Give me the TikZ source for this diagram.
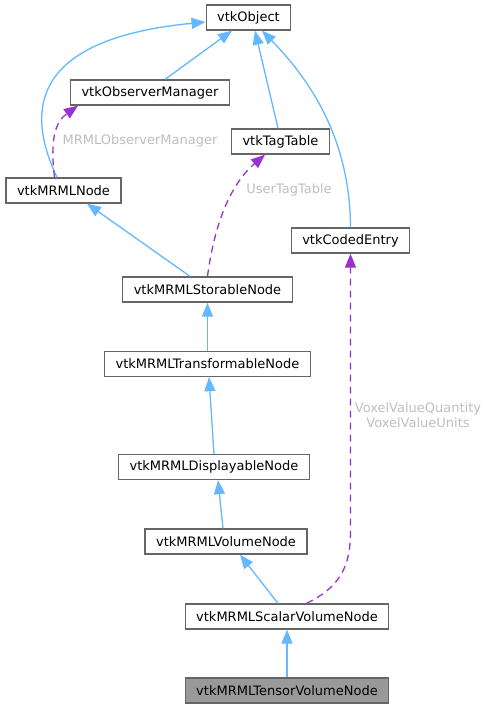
\documentclass[tikz,border=0pt]{standalone}
\usepackage{fontspec}
\setmainfont{DejaVu Sans}
\usepackage{xcolor}
\usetikzlibrary{arrows.meta}

\definecolor{edgeblue}{HTML}{63B8FF}
\definecolor{edgepurple}{HTML}{9A32CD}
\definecolor{boxgray}{HTML}{666666}
\definecolor{mainfill}{HTML}{999999}
\definecolor{labelgray}{HTML}{BEBEBE}

\begin{document}
\begin{tikzpicture}[x=1pt, y=-1pt,
    font=\fontsize{13}{15}\selectfont,
    cls/.style={draw=boxgray, line width=1.3pt, fill=white, minimum height=25pt, inner xsep=11pt, inner ysep=0pt},
    mainclass/.style={cls, fill=mainfill},
    inherit/.style={draw=edgeblue, line width=1.3pt, -{Triangle[length=14pt, width=11pt]}},
    usage/.style={draw=edgepurple, line width=1.3pt, dash pattern=on 7pt off 5pt, -{Triangle[length=14pt, width=11pt]}},
    edgelabel/.style={text=labelgray, align=center, inner sep=0pt}]
    \useasboundingbox (0,0) rectangle (488,709);

    % Classes  (pixel grid 488 x 709, y pointing down)
    \node[cls] (vtkobject) at (248.5,17.5) {vtkObject};
    \node[cls] (obsmgr) at (150,92.5) {vtkObserverManager};
    \node[cls] (tagtable) at (280.5,141.5) {vtkTagTable};
    \node[cls] (mrmlnode) at (63.5,190.5) {vtkMRMLNode};
    \node[cls] (codedentry) at (350.5,240.5) {vtkCodedEntry};
    \node[cls] (storable) at (207.5,289.5) {vtkMRMLStorableNode};
    \node[cls] (transformable) at (207.5,364) {vtkMRMLTransformableNode};
    \node[cls] (displayable) at (214,467) {vtkMRMLDisplayableNode};
    \node[cls] (volume) at (226,541.5) {vtkMRMLVolumeNode};
    \node[cls] (scalar) at (287,616.5) {vtkMRMLScalarVolumeNode};
    \node[mainclass] (tensor) at (287,690.5) {vtkMRMLTensorVolumeNode};

    % Inheritance towards vtkObject
    \draw[inherit] ([xshift=15pt]obsmgr.north) -- ([xshift=-16.5pt]vtkobject.south);
    \draw[inherit] ([xshift=-6.5pt]mrmlnode.north) .. controls (30,120) and (20,40) .. ([yshift=-4.5pt]vtkobject.west);
    \draw[inherit] ([xshift=-2.5pt]tagtable.north) -- ([xshift=6.5pt]vtkobject.south);
    \draw[inherit] (codedentry.north) .. controls (350,150) and (320,90) .. ([xshift=13.5pt]vtkobject.south);

    % Inheritance chain of MRML nodes
    \draw[inherit] ([xshift=-17.5pt]storable.north) -- ([xshift=23.5pt]mrmlnode.south);
    \draw[inherit] (transformable.north) -- (storable.south);
    \draw[inherit] (displayable.north) -- ([xshift=1.5pt]transformable.south);
    \draw[inherit] ([xshift=-3pt]volume.north) -- ([xshift=4pt]displayable.south);
    \draw[inherit] ([xshift=-9pt]scalar.north) -- ([xshift=14pt]volume.south);
    \draw[inherit] (tensor.north) -- (scalar.south);

    % Usage relations (members)
    \draw[usage] ([xshift=-9pt]mrmlnode.north) .. controls (50,140) and (55,122) .. ([xshift=-72pt]obsmgr.south);
    \node[edgelabel] (lblobs) at (140,141) {MRMLObserverManager};

    \draw[usage] (storable.north) .. controls (215,220) and (232,183) .. ([xshift=-15.5pt]tagtable.south);
    \node[edgelabel] (lbltag) at (289,190) {UserTagTable};

    \coordinate (voxbend) at (350.5,530);
    \draw[usage] ([xshift=19.5pt]scalar.north) .. controls (345,585) and (350.5,560) .. (voxbend) -- (codedentry.south);
    \node[edgelabel] (lblvox) at (418,415) {VoxelValueQuantity\\VoxelValueUnits};
\end{tikzpicture}
\end{document}
